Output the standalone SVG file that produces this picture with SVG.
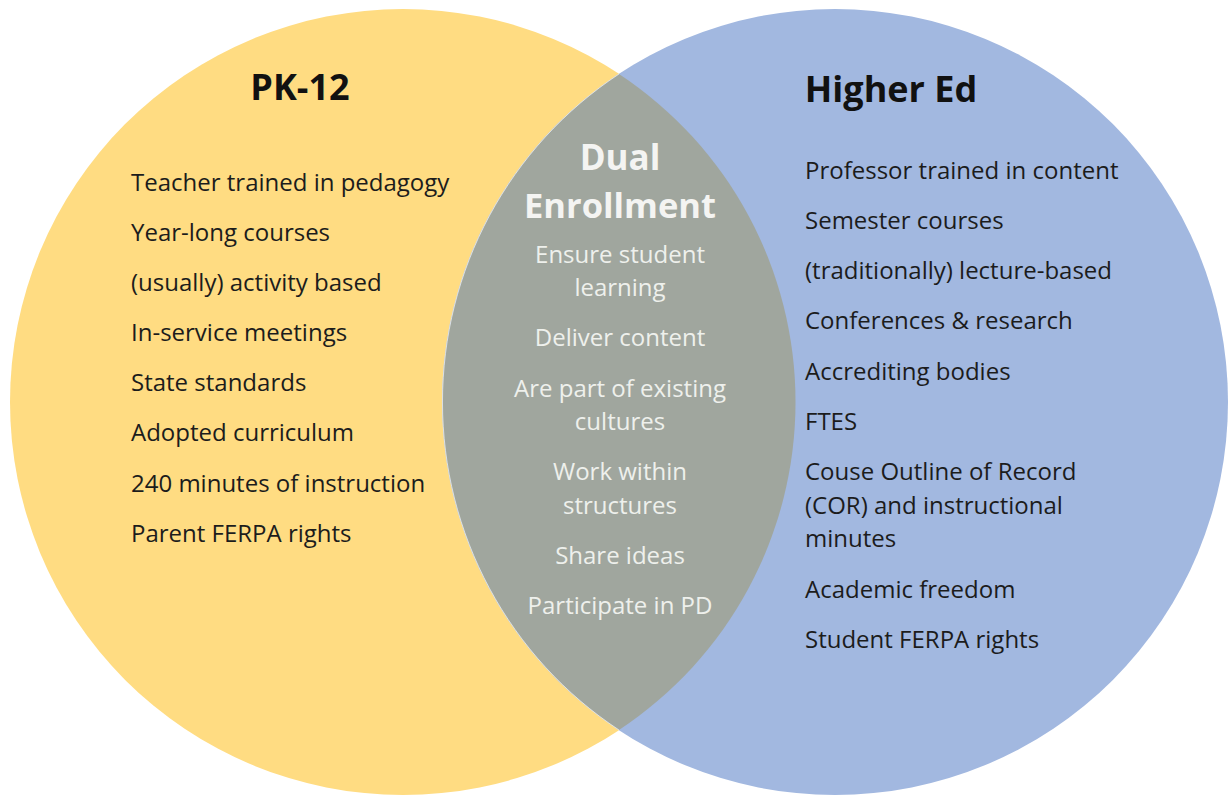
<svg xmlns="http://www.w3.org/2000/svg" width="1231" height="798" viewBox="0 0 1231 798">
<style>
.t{font-family:"Open Sans","Noto Sans","Liberation Sans",sans-serif;font-size:24px;fill:#1c1c1c}
.c{font-family:"Open Sans","Noto Sans","Liberation Sans",sans-serif;font-size:24px;fill:#eef0ec;text-anchor:middle}
.h{font-family:"Open Sans","Noto Sans","Liberation Sans",sans-serif;font-size:36px;font-weight:bold;text-anchor:middle}
</style>
<rect width="1231" height="798" fill="#ffffff"/>
<g id="pk12">
<circle cx="403" cy="402" r="393" fill="#FFDC82"/>
</g>
<g id="highered">
<circle cx="835" cy="402" r="393" fill="#A2B8E0"/>
</g>
<g id="dual">
<path d="M619 74 A393 393 0 0 1 619 730 A393 393 0 0 1 619 74 Z" fill="#A0A69E"/>
<path d="M619 74 A393 393 0 0 0 619 730" fill="none" stroke="#ffffff" stroke-opacity="0.6" stroke-width="1"/>
</g>
<g id="pk12-text">
<text class="h" x="300" y="100" fill="#111">PK-12</text>
<text class="t" x="131" y="191">Teacher trained in pedagogy</text>
<text class="t" x="131" y="241">Year-long courses</text>
<text class="t" x="131" y="291">(usually) activity based</text>
<text class="t" x="131" y="341">In-service meetings</text>
<text class="t" x="131" y="391">State standards</text>
<text class="t" x="131" y="441">Adopted curriculum</text>
<text class="t" x="131" y="492">240 minutes of instruction</text>
<text class="t" x="131" y="542">Parent FERPA rights</text>
</g>
<g id="highered-text">
<text class="h" x="891" y="102" fill="#111">Higher Ed</text>
<text class="t" x="805" y="179">Professor trained in content</text>
<text class="t" x="805" y="229">Semester courses</text>
<text class="t" x="805" y="279">(traditionally) lecture-based</text>
<text class="t" x="805" y="329">Conferences &amp; research</text>
<text class="t" x="805" y="380">Accrediting bodies</text>
<text class="t" x="805" y="430">FTES</text>
<text class="t" x="805" y="480">Couse Outline of Record</text>
<text class="t" x="805" y="514">(COR) and instructional</text>
<text class="t" x="805" y="547">minutes</text>
<text class="t" x="805" y="598">Academic freedom</text>
<text class="t" x="805" y="648">Student FERPA rights</text>
</g>
<g id="dual-text">
<text class="h" x="620" y="170" fill="#f4f4f2" style="font-size:35px">Dual</text>
<text class="h" x="620" y="218" fill="#f4f4f2" style="font-size:34.5px">Enrollment</text>
<text class="c" x="620" y="263">Ensure student</text>
<text class="c" x="620" y="296">learning</text>
<text class="c" x="620" y="346">Deliver content</text>
<text class="c" x="620" y="397">Are part of existing</text>
<text class="c" x="620" y="430">cultures</text>
<text class="c" x="620" y="480">Work within</text>
<text class="c" x="620" y="514">structures</text>
<text class="c" x="620" y="564">Share ideas</text>
<text class="c" x="620" y="614">Participate in PD</text>
</g>
<g id="connectors"></g>
</svg>
